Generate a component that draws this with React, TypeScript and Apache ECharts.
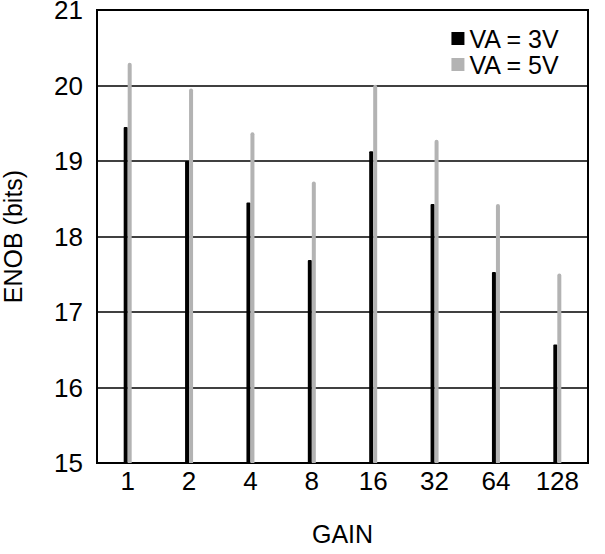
import React, { useEffect, useRef } from "react";
import * as echarts from "echarts";

const gains = ["1", "2", "4", "8", "16", "32", "64", "128"];
const va3 = [19.45, 19.0, 18.45, 17.69, 19.13, 18.43, 17.53, 16.57];
const va5 = [20.3, 19.96, 19.38, 18.73, 20.01, 19.28, 18.43, 17.51];
const yTicks = { min: 15, max: 21, interval: 1 };

const FONT = "Liberation Sans, Arial, sans-serif";

export default function App() {
  const ref = useRef<HTMLDivElement>(null);
  useEffect(() => {
    if (!ref.current) return;
    const chart = echarts.init(ref.current, null, { renderer: "svg" });
    chart.setOption({
      animation: false,
      backgroundColor: "#fff",
      textStyle: { fontFamily: FONT, color: "#000" },
      grid: {
        left: 97,
        right: 17,
        top: 10,
        bottom: 91,
        show: true,
        borderColor: "#000",
        borderWidth: 2,
        containLabel: false,
        outerBoundsMode: "none",
      },
      legend: {
        orient: "vertical",
        right: 40,
        top: 21,
        itemWidth: 13,
        itemHeight: 13,
        itemGap: 1,
        icon: "rect",
        textStyle: {
          fontSize: 25,
          lineHeight: 22,
          color: "#000",
          fontFamily: FONT,
        },
        data: ["VA = 3V", "VA = 5V"],
      },
      xAxis: {
        type: "category",
        data: gains,
        axisTick: { show: false },
        axisLine: { lineStyle: { color: "#000", width: 2 } },
        axisLabel: { fontSize: 26, color: "#000", margin: 5, fontFamily: FONT },
        name: "GAIN",
        nameLocation: "middle",
        nameGap: 58,
        nameTextStyle: { fontSize: 25, color: "#000", fontFamily: FONT },
      },
      yAxis: {
        type: "value",
        min: yTicks.min,
        max: yTicks.max,
        interval: yTicks.interval,
        axisLine: { show: true, lineStyle: { color: "#000", width: 2 } },
        axisTick: { show: false },
        splitLine: { lineStyle: { color: "#000", width: 1.5 } },
        axisLabel: { fontSize: 26, color: "#000", margin: 14, fontFamily: FONT },
        name: "ENOB (bits)",
        nameLocation: "middle",
        nameGap: 72,
        nameTextStyle: { fontSize: 25, color: "#000", fontFamily: FONT },
      },
      series: [
        {
          name: "VA = 3V",
          type: "bar",
          data: va3,
          barWidth: 4,
          barGap: "0%",
          itemStyle: { color: "#000", borderRadius: [1, 1, 0, 0] },
        },
        {
          name: "VA = 5V",
          type: "bar",
          data: va5,
          barWidth: 4,
          barGap: "0%",
          itemStyle: { color: "#b3b3b3", borderRadius: [2, 2, 0, 0] },
        },
      ],
    });
    return () => chart.dispose();
  }, []);
  return (
    <div
      ref={ref}
      style={{ position: "fixed", left: 0, top: 0, width: 605, height: 554 }}
    />
  );
}
